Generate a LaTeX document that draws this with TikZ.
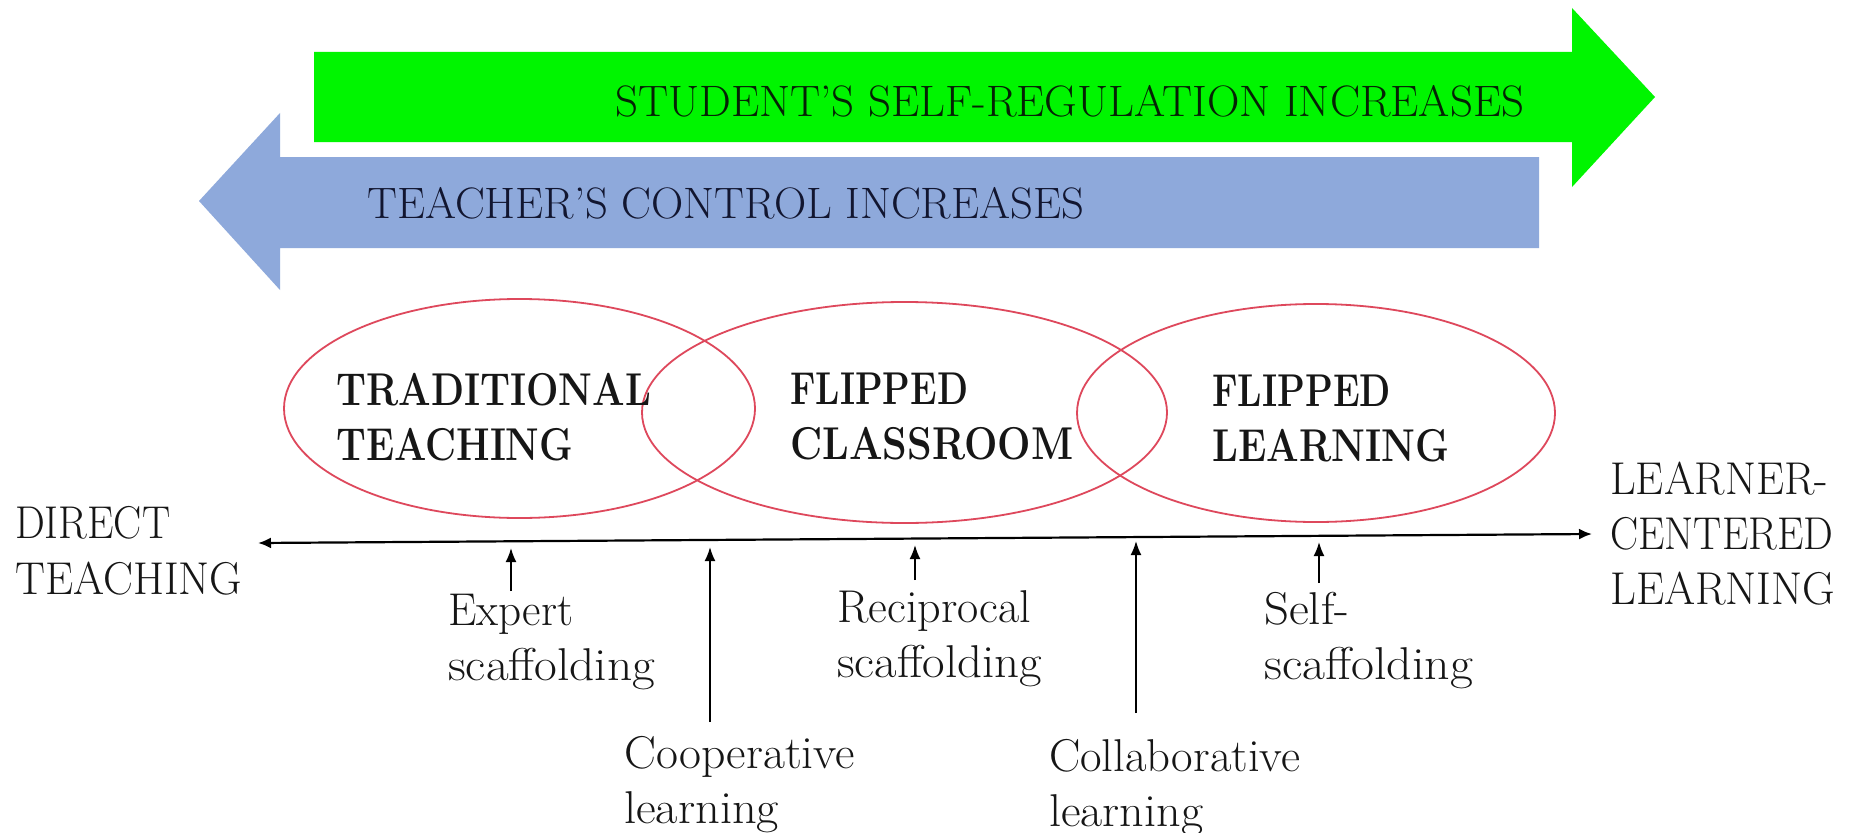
\documentclass[tikz,border=0pt]{standalone}
\usepackage{fontspec}
\usepackage{graphicx}
\usetikzlibrary{arrows.meta,shapes.geometric,calc}
\definecolor{arrgreen}{RGB}{0,245,0}
\definecolor{arrblue}{RGB}{142,169,219}
\definecolor{ellred}{RGB}{222,72,92}
\definecolor{ink}{RGB}{22,22,22}
\definecolor{greenink}{RGB}{5,35,5}
\definecolor{blueink}{RGB}{18,22,48}
\newcommand{\fw}[2]{\resizebox{#1pt}{\height}{#2}}
\begin{document}
\begin{tikzpicture}[x=1pt,y=-1pt,
  lbl/.style={inner sep=0pt, anchor=north west, align=left, text=ink, font=\fontsize{46}{56}\selectfont},
  boldlbl/.style={lbl, font=\fontsize{46}{55}\selectfont\bfseries},
  arrtxt/.style={inner sep=0pt, anchor=north west, font=\fontsize{44}{50}\selectfont},
  ell/.style={draw=ellred, line width=1.8pt, ellipse, inner sep=0pt},
  mainaxis/.style={line width=2.2pt, {Latex[length=13pt,width=11pt]}-{Latex[length=13pt,width=11pt]}},
  uparr/.style={line width=1.8pt, -{Latex[length=14pt,width=11pt]}}
]
\useasboundingbox (0,0) rectangle (1851,832);
\fill[white] (0,0) rectangle (1851,832);

% big arrows
\fill[arrgreen] (314,52) -- (1572,52) -- (1572,8) -- (1655,97) -- (1572,187) -- (1572,142) -- (314,142) -- cycle;
\fill[arrblue] (1539,157) -- (280,157) -- (280,113) -- (199,201) -- (280,290) -- (280,248) -- (1539,248) -- cycle;
\node[arrtxt, text=greenink] (sreg) at (615,85) {\fw{909}{STUDENT’S SELF-REGULATION INCREASES}};
\node[arrtxt, text=blueink] (tctrl) at (367,187) {\fw{717}{TEACHER’S CONTROL INCREASES}};

% ellipses
\node[ell, minimum width=471pt, minimum height=219pt] (trad) at (519.5,408.5) {};
\node[ell, minimum width=525pt, minimum height=221pt] (fclass) at (904.5,412.5) {};
\node[ell, minimum width=478pt, minimum height=218pt] (flearn) at (1316,413) {};

\node[boldlbl] (tradtxt) at (336,373) {\fw{315}{TRADITIONAL}\\\fw{237}{TEACHING}};
\node[boldlbl] (fctxt) at (790,373) {\fw{178}{FLIPPED}\\\fw{283}{CLASSROOM}};
\node[boldlbl] (fltxt) at (1212,375) {\fw{179}{FLIPPED}\\\fw{237}{LEARNING}};

% axis
\node[lbl] (direct) at (15,506) {\fw{155}{DIRECT}\\\fw{227}{TEACHING}};
\node[lbl, font=\fontsize{46}{55}\selectfont] (learner) at (1610,462) {\fw{218}{LEARNER-}\\\fw{223}{CENTERED}\\\fw{225}{LEARNING}};
\coordinate (axL) at (258,543);
\coordinate (axR) at (1592,534);
\draw[mainaxis] (axL) -- (axR);

% bottom labels
\node[lbl, font=\fontsize{46}{55}\selectfont] (expert) at (448,594) {\fw{125}{Expert}\\\fw{207}{scaffolding}};
\node[lbl, font=\fontsize{46}{55}\selectfont] (coop) at (624,736) {\fw{231}{Cooperative}\\\fw{155}{learning}};
\node[lbl, font=\fontsize{46}{55}\selectfont] (recip) at (837,590) {\fw{194}{Reciprocal}\\\fw{205}{scaffolding}};
\node[lbl, font=\fontsize{46}{55}\selectfont] (collab) at (1049,739) {\fw{251}{Collaborative}\\\fw{154}{learning}};
\node[lbl, font=\fontsize{46}{55}\selectfont] (selfs) at (1264,592) {\fw{85}{Self-}\\\fw{209}{scaffolding}};

% small arrows
\coordinate (eA) at (511,591); \coordinate (eB) at (511,548);
\coordinate (cA) at (710,722); \coordinate (cB) at (710,547);
\coordinate (rA) at (915,580); \coordinate (rB) at (915,545);
\coordinate (lA) at (1136,713); \coordinate (lB) at (1136,541);
\coordinate (sA) at (1319,583); \coordinate (sB) at (1319,542);
\draw[uparr] (eA) -- (eB);
\draw[uparr] (cA) -- (cB);
\draw[uparr] (rA) -- (rB);
\draw[uparr] (lA) -- (lB);
\draw[uparr] (sA) -- (sB);
\end{tikzpicture}
\end{document}
